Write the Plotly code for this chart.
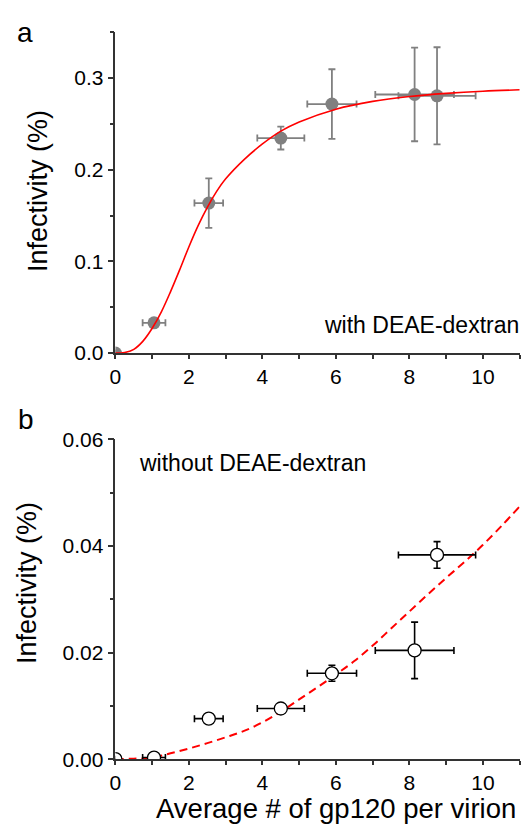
import plotly.graph_objects as go

# ---- data ----
gp120 = [0, 1.05, 2.54, 4.50, 5.89, 8.14, 8.75]
gp120_err = [None, 0.31, 0.39, 0.64, 0.67, 1.07, 1.05]

inf_with = [0, 0.0330, 0.1636, 0.2345, 0.2715, 0.2820, 0.2805]
inf_with_err = [None, None, 0.027, 0.0125, 0.038, 0.051, 0.053]

inf_without = [0, 0.0003, 0.0076, 0.0095, 0.0161, 0.0204, 0.0383]
inf_without_err = [None, 0.0003, None, 0.0005, 0.0015, 0.0053, 0.0025]

# fitted curves
fit_with_x = [0, 0.25, 0.5, 0.75, 1.0, 1.25, 1.5, 1.75, 2.0, 2.25, 2.5, 2.75, 3.0,
              3.5, 4.0, 4.5, 5.0, 6.0, 7.0, 8.0, 9.0, 10.0, 11.0]
fit_with_y = [0, 0.0006, 0.004, 0.013, 0.027, 0.045, 0.067, 0.091, 0.116, 0.139,
              0.159, 0.176, 0.190, 0.211, 0.228, 0.242, 0.252, 0.266, 0.2745,
              0.2798, 0.2832, 0.2856, 0.2871]

fit_without_x = [0, 0.5, 1.0, 1.5, 2.0, 2.5, 3.0, 3.5, 4.0, 4.5, 5.0, 5.5, 6.0,
                 6.5, 7.0, 7.5, 8.0, 8.5, 9.0, 9.5, 10.0, 10.5, 11.0]
fit_without_y = [0, 0.0001, 0.0003, 0.0011, 0.0020, 0.0030, 0.0041, 0.0053, 0.0069,
                 0.0089, 0.0112, 0.0135, 0.0159, 0.0184, 0.0213, 0.0245, 0.0277,
                 0.0309, 0.0340, 0.0370, 0.0402, 0.0437, 0.0474]

x_ticks = [0, 2, 4, 6, 8, 10]
ya_ticks = [0.0, 0.1, 0.2, 0.3]
yb_ticks = [0.00, 0.02, 0.04, 0.06]

W, H = 522, 836
FONT = "Arial, Liberation Sans, sans-serif"
AX = "#333333"
GRAY = "#808080"

fig = go.Figure()

# panel a markers
fig.add_trace(go.Scatter(
    x=gp120, y=inf_with, mode="markers", xaxis="x", yaxis="y",
    marker=dict(size=13, color=GRAY, line=dict(width=0)),
    error_x=dict(type="data", array=gp120_err, color=GRAY, thickness=1.8, width=3.5),
    error_y=dict(type="data", array=inf_with_err, color=GRAY, thickness=1.8, width=3.5),
    cliponaxis=True, showlegend=False))
# panel a fit
fig.add_trace(go.Scatter(
    x=fit_with_x, y=fit_with_y, mode="lines", xaxis="x", yaxis="y",
    line=dict(color="#ff0000", width=1.6, shape="spline", smoothing=1.0),
    showlegend=False))

# panel b fit (beneath markers)
fig.add_trace(go.Scatter(
    x=fit_without_x, y=fit_without_y, mode="lines", xaxis="x2", yaxis="y2",
    line=dict(color="#ff0000", width=2, dash="8px,5px", shape="spline", smoothing=1.0),
    showlegend=False))
# panel b markers
fig.add_trace(go.Scatter(
    x=gp120, y=inf_without, mode="markers", xaxis="x2", yaxis="y2",
    marker=dict(size=13, color="white", line=dict(width=1.3, color="black")),
    error_x=dict(type="data", array=gp120_err, color="black", thickness=1.6, width=3.5),
    error_y=dict(type="data", array=inf_without_err, color="black", thickness=1.6, width=3.5),
    cliponaxis=True, showlegend=False))

x_dom = [110.7 / W, 519.7 / W]
ya_dom = [1 - 350.7 / H, 1 - 20.7 / H]
yb_dom = [1 - 768.3 / H, 1 - 439.3 / H]

common_x = dict(range=[0, 11], tickvals=x_ticks, ticks="outside", ticklen=4,
                tickwidth=1.5, tickcolor=AX, showline=True, linecolor=AX, linewidth=1.5,
                showgrid=False, zeroline=False, domain=x_dom,
                tickfont=dict(family=FONT, size=21, color="black"),
                minor=dict(dtick=1, ticks="outside", ticklen=4, tickwidth=1.5, tickcolor=AX))
common_y = dict(ticks="outside", ticklen=6, tickwidth=1.5, tickcolor=AX,
                showline=True, linecolor=AX, linewidth=1.5, showgrid=False,
                zeroline=False, tickfont=dict(family=FONT, size=21, color="black"))

fig.update_layout(
    width=W, height=H, margin=dict(l=0, r=0, t=0, b=0),
    paper_bgcolor="white", plot_bgcolor="white",
    xaxis=dict(anchor="y", **common_x),
    yaxis=dict(anchor="x", domain=ya_dom, range=[0, 0.35], tickvals=ya_ticks,
               tickformat=".1f",
               minor=dict(dtick=0.05, ticks="outside", ticklen=3.5, tickwidth=1.5, tickcolor=AX),
               **common_y),
    xaxis2=dict(anchor="y2", **common_x),
    yaxis2=dict(anchor="x2", domain=yb_dom, range=[0, 0.06], tickvals=yb_ticks,
                tickformat=".2f",
                minor=dict(dtick=0.01, ticks="outside", ticklen=3.5, tickwidth=1.5, tickcolor=AX),
                **common_y),
)

def ann(text, x, y, size, xanchor="center", yanchor="middle", angle=0):
    fig.add_annotation(text=text, x=x / W, y=1 - y / H, xref="paper", yref="paper",
                       xanchor=xanchor, yanchor=yanchor, textangle=angle,
                       showarrow=False, font=dict(family=FONT, size=size, color="black"))

ann("a", 19, 21, 28)
ann("b", 20.5, 419, 28)
ann("Infectivity (%)", 32.5, 184, 27, angle=-90)
ann("Infectivity (%)", 21.5, 587, 27, angle=-90)
ann("with DEAE-dextran", 521, 322, 23, xanchor="right")
ann("without DEAE-dextran", 133, 464, 23, xanchor="left")
ann("Average # of gp120 per virion", 334, 819, 27.5)

fig.write_html("out.html")
